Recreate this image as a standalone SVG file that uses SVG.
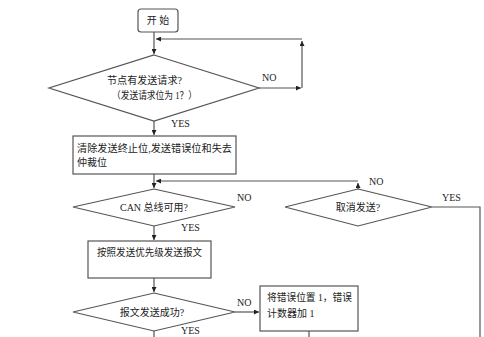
<svg xmlns="http://www.w3.org/2000/svg" width="484" height="337" viewBox="0 0 484 337">
<defs>
<marker id="ah" viewBox="0 0 10 10" refX="10" refY="5" markerWidth="5" markerHeight="5" orient="auto" markerUnits="userSpaceOnUse"><path d="M0,0 L10,5 L0,10 z" fill="#222"/></marker>
<style>
.s{fill:#fff;stroke:#555;stroke-width:1.2}
.l{fill:none;stroke:#555;stroke-width:1.2}
.t{font-family:"Liberation Serif","Noto Sans CJK SC",serif;font-size:10px;fill:#222}
.c{text-anchor:middle}
</style>
</defs>
<rect width="484" height="337" fill="#fff"/>
<g id="connectors">
<path class="l" d="M154,32 V54" marker-end="url(#ah)"/>
<path class="l" d="M302,39 H156" marker-end="url(#ah)"/>
<path class="l" d="M259,88 H301" marker-end="url(#ah)"/>
<path class="l" d="M302,88 V41" marker-end="url(#ah)"/>
<path class="l" d="M154,121 V135" marker-end="url(#ah)"/>
<path class="l" d="M154,174 V188" marker-end="url(#ah)"/>
<path class="l" d="M358,181 H156" marker-end="url(#ah)"/>
<path class="l" d="M358,189 V183" marker-end="url(#ah)"/>
<path class="l" d="M154,226 V240" marker-end="url(#ah)"/>
<path class="l" d="M154,278 V292" marker-end="url(#ah)"/>
<path class="l" d="M235,312 H259" marker-end="url(#ah)"/>
<path class="l" d="M154,331 V337"/>
<path class="l" d="M309,331 V337"/>
<path class="l" d="M432,207 H480 V337"/>
<text class="t" x="262" y="81">NO</text>
<text class="t" x="171" y="127">YES</text>
<text class="t" x="237" y="201">NO</text>
<text class="t" x="181" y="231">YES</text>
<text class="t" x="237" y="306">NO</text>
<text class="t" x="181" y="334">YES</text>
<text class="t" x="369" y="185">NO</text>
<text class="t" x="442" y="201">YES</text>
</g>
<g id="start">
<rect class="s" x="138" y="9" width="40" height="23" rx="3"/>
<text class="t c" x="158" y="24">开 始</text>
</g>
<g id="request">
<path class="s" d="M154,55 L259,88 L154,121 L49,88 z"/>
<text class="t" x="107" y="84" textLength="75" lengthAdjust="spacingAndGlyphs">节点有发送请求?</text>
<text class="t" x="112" y="99" textLength="85" lengthAdjust="spacingAndGlyphs">（发送请求位为 1？）</text>
</g>
<g id="clear">
<rect class="s" x="73" y="136" width="163" height="38"/>
<text class="t" x="77" y="152" textLength="155" lengthAdjust="spacingAndGlyphs">清除发送终止位,发送错误位和失去</text>
<text class="t" x="77" y="166">仲裁位</text>
</g>
<g id="canbus">
<path class="s" d="M154,189 L235,207 L154,226 L73,207 z"/>
<text class="t c" x="154" y="211">CAN 总线可用?</text>
</g>
<g id="send">
<rect class="s" x="88" y="241" width="123" height="37"/>
<text class="t" x="97" y="256" textLength="105" lengthAdjust="spacingAndGlyphs">按照发送优先级发送报文</text>
</g>
<g id="success">
<path class="s" d="M154,293 L235,312 L154,331 L73,312 z"/>
<text class="t c" x="152" y="316">报文发送成功?</text>
</g>
<g id="error">
<rect class="s" x="260" y="286" width="98" height="45"/>
<text class="t" x="267" y="301" textLength="85" lengthAdjust="spacingAndGlyphs">将错误位置 1，错误</text>
<text class="t" x="267" y="317">计数器加 1</text>
</g>
<g id="cancel">
<path class="s" d="M358,189 L432,207 L358,226 L285,207 z"/>
<text class="t c" x="358" y="211">取消发送?</text>
</g>
</svg>
